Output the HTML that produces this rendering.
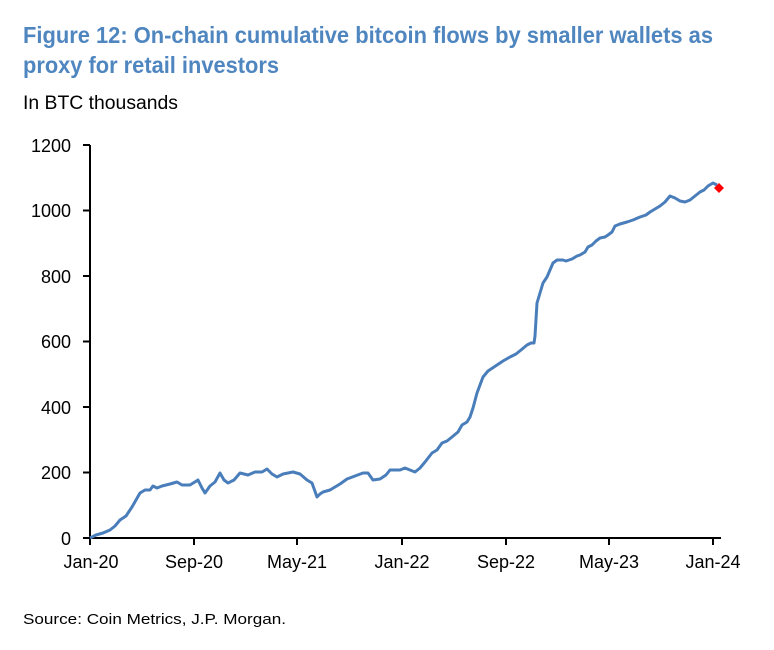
<!DOCTYPE html>
<html><head><meta charset="utf-8"><style>html,body{margin:0;padding:0;background:#fff}svg{display:block}</style></head>
<body>
<svg width="774" height="650" viewBox="0 0 774 650" xmlns="http://www.w3.org/2000/svg" font-family="Liberation Sans, Arial, sans-serif">
<text x="23" y="43" font-size="23" font-weight="bold" fill="#4f86bf" textLength="690" lengthAdjust="spacingAndGlyphs">Figure 12: On-chain cumulative bitcoin flows by smaller wallets as</text>
<text x="23" y="73" font-size="23" font-weight="bold" fill="#4f86bf" textLength="256" lengthAdjust="spacingAndGlyphs">proxy for retail investors</text>
<text x="23" y="109" font-size="19" fill="#000" textLength="155" lengthAdjust="spacingAndGlyphs">In BTC thousands</text>
<g stroke="#000" stroke-width="2" fill="none">
<line x1="90" y1="145" x2="90" y2="539"/>
<line x1="89" y1="538" x2="721" y2="538"/>
<line x1="83" y1="145" x2="90" y2="145"/><line x1="83" y1="210.5" x2="90" y2="210.5"/><line x1="83" y1="276" x2="90" y2="276"/><line x1="83" y1="341.5" x2="90" y2="341.5"/><line x1="83" y1="407" x2="90" y2="407"/><line x1="83" y1="472.5" x2="90" y2="472.5"/><line x1="83" y1="538" x2="90" y2="538"/>
<line x1="90" y1="538" x2="90" y2="545"/><line x1="194" y1="538" x2="194" y2="545"/><line x1="297" y1="538" x2="297" y2="545"/><line x1="402" y1="538" x2="402" y2="545"/><line x1="506" y1="538" x2="506" y2="545"/><line x1="609" y1="538" x2="609" y2="545"/><line x1="713" y1="538" x2="713" y2="545"/>
</g>
<g font-size="18" fill="#000" text-anchor="end">
<text x="71" y="152">1200</text><text x="71" y="217">1000</text><text x="71" y="283">800</text><text x="71" y="348">600</text><text x="71" y="414">400</text><text x="71" y="479">200</text><text x="71" y="545">0</text>
</g>
<g font-size="18" fill="#000" text-anchor="middle">
<text x="91" y="568">Jan-20</text><text x="194" y="568">Sep-20</text><text x="297" y="568">May-21</text><text x="402" y="568">Jan-22</text><text x="506" y="568">Sep-22</text><text x="609" y="568">May-23</text><text x="713" y="568">Jan-24</text>
</g>
<polyline fill="none" stroke="#4a7ebb" stroke-width="3" stroke-linejoin="round" points="90,538 96,535 103,533 110,530 115,526 120,520 126,516 132,507 140,493 145,490 150,490 153,486 157,488 162,486 170,484 177,482 182,485 190,485 198,480 202,488 205,493 210,486 215,482 220,473 224,480 228,483 234,480 240,473 248,475 255,472 262,472 267,469 272,474 277,477 283,474 293,472 300,474 307,480 312,483 317,497 320,494 323,492 330,490 340,484 347,479 355,476 363,473 368,473 373,480 380,479 386,475 390,470 396,470 400,470 405,468 410,470 415,472 420,468 425,462 432,453 437,450 442,443 447,441 452,437 458,432 462,425 467,422 470,417 473,408 477,393 483,377 488,371 497,365 503,361 510,357 516,354 521,350 527,345 531,343 534,343 535,336 537,303 540,293 543,283 547,277 550,270 553,263 557,260 563,260 566,261 572,259 577,256 580,255 585,252 588,247 592,245 596,241 600,238 605,237 608,235 612,232 615,226 620,224 627,222 633,220 640,217 646,215 650,212 655,209 660,206 665,202 670,196 675,198 680,201 685,202 690,200 695,196 700,192 704,190 708,186 713,183 717,185"/>
<path d="M719,183 L724,188 L719,193 L714,188 Z" fill="#ff0000"/>
<text x="23" y="624" font-size="15" fill="#000" textLength="263" lengthAdjust="spacingAndGlyphs">Source: Coin Metrics, J.P. Morgan.</text>
</svg>
</body></html>
